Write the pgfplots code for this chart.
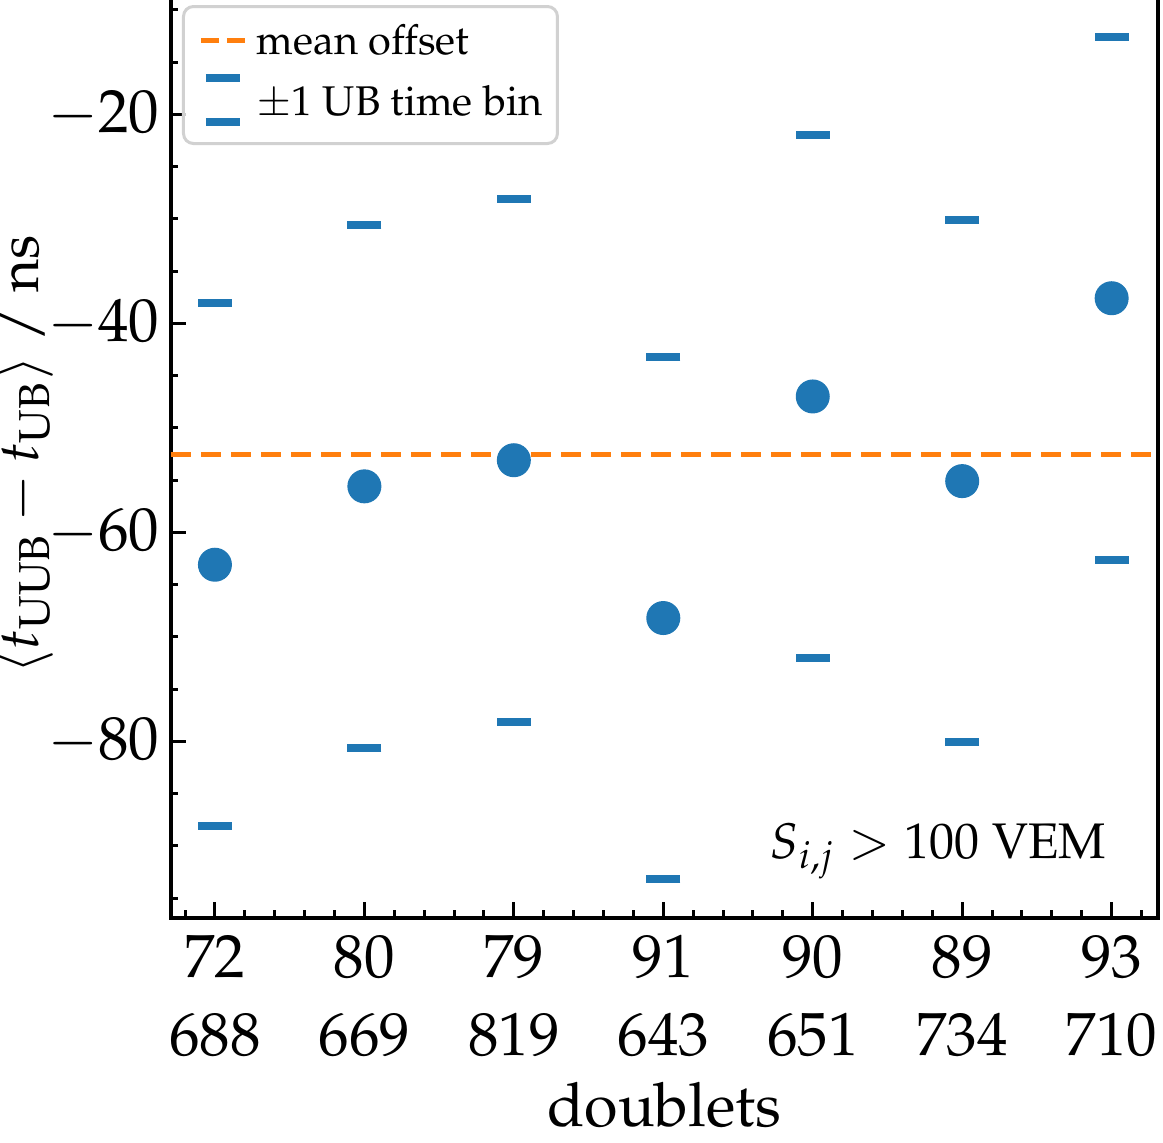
\documentclass[border=0pt]{standalone}
\usepackage[T1]{fontenc}
\usepackage{mathpazo}
\usepackage{pgfplots}
\pgfplotsset{compat=1.18}
\definecolor{tabblue}{HTML}{1F77B4}
\definecolor{taborange}{HTML}{FF7F0E}
\pgfplotstableread{
x y up lo
0 -63.1 -38.1 -88.1
1 -55.6 -30.6 -80.6
2 -53.1 -28.1 -78.1
3 -68.2 -43.2 -93.2
4 -47.0 -22.0 -72.0
5 -55.1 -30.1 -80.1
6 -37.6 -12.6 -62.6
}\datatable
\begin{document}
\begin{tikzpicture}
\begin{axis}[
  scale only axis,
  width=197.4pt, height=185.2pt,
  xmin=-0.294, xmax=6.31,
  ymin=-96.9, ymax=-8.3,
  xtick={0,1,2,3,4,5,6},
  xticklabels={{72\\688},{80\\669},{79\\819},{91\\643},{90\\651},{89\\734},{93\\710}},
  xticklabel style={align=center, font=\fontsize{12.2}{15.6}\selectfont},
  ytick={-80,-60,-40,-20},
  yticklabel style={font=\fontsize{12.2}{14.6}\selectfont, xshift=1.2pt},
  minor xtick={-0.2,0,0.2,...,6.2},
  minor ytick={-95,-90,...,-10},
  xtick pos=left, ytick pos=left,
  tick align=inside,
  major tick length=3.1pt, minor tick length=1.5pt,
  every tick/.style={black, line width=0.6pt},
  axis line style={line width=0.7pt},
  xlabel={doublets},
  ylabel={$\langle t_{\mathrm{UUB}} - t_{\mathrm{UB}} \rangle$ / ns},
  every axis x label/.style={at={(axis description cs:0.5,0)}, anchor=base, yshift=-41.8pt, font=\fontsize{12.2}{14.6}\selectfont},
  every axis y label/.style={at={(axis description cs:0,0.5)}, xshift=-35.6pt, rotate=90, anchor=north, inner sep=0pt, font=\fontsize{11.4}{14}\selectfont},
  legend style={at={(rel axis cs:0,1)}, anchor=north west, xshift=2.2pt, yshift=-2.6pt,
    draw=black!18, line width=0.6pt, rounded corners=2pt, fill=white, fill opacity=0.8, text opacity=1,
    font=\fontsize{8.3}{10}\selectfont, inner xsep=3.0pt, inner ysep=3.6pt, row sep=2.3pt, column sep=1.9pt,
    nodes={inner sep=0pt}},
  legend cell align=left,
]
\addplot[taborange, line width=1pt, dash pattern=on 4.1pt off 1.9pt,
  legend image code/.code={\draw[taborange, line width=1pt, dash pattern=on 3.6pt off 1.6pt] (0pt,0.6pt) -- (8.8pt,0.6pt);}]
  coordinates {(-0.294,-52.6) (6.31,-52.6)};
\addlegendentry{mean offset}
\addplot[tabblue, only marks, mark=-, mark size=3.4pt, mark options={line width=1.6pt},
  legend image code/.code={\path[draw=none] (-0.5pt,0pt) -- (9.3pt,0pt); \draw[tabblue, line width=1.6pt] (1.0pt,5.4pt) -- (7.8pt,5.4pt) (1.0pt,-3.4pt) -- (7.8pt,-3.4pt);}]
  table[x=x, y=up] {\datatable};
\addlegendentry{$\pm1$ UB time bin}
\addplot[tabblue, only marks, mark=-, mark size=3.4pt, mark options={line width=1.6pt}, forget plot]
  table[x=x, y=lo] {\datatable};
\addplot[only marks, mark=*, mark size=3.2pt, mark options={draw=tabblue, fill=tabblue}, forget plot]
  table[x=x, y=y] {\datatable};
\node[anchor=base east, inner sep=0pt, font=\fontsize{10.0}{12}\selectfont] at (axis cs:5.97,-91.2) {$S_{i,j} > 100$ VEM};
\end{axis}
\pgfresetboundingbox
\path[use as bounding box] ([xshift=-34.2pt,yshift=-45pt]current axis.south west) rectangle ([xshift=1pt,yshift=183.6pt]current axis.south east);
\end{tikzpicture}
\end{document}
